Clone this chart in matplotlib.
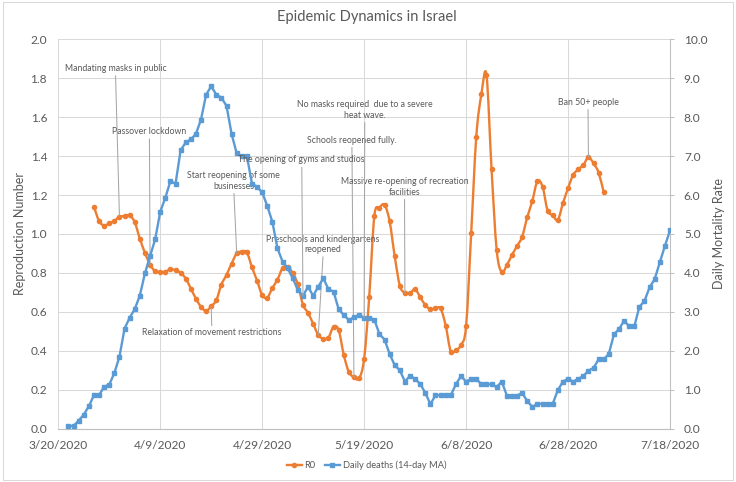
import matplotlib
matplotlib.use('Agg')
import matplotlib.pyplot as plt
import matplotlib.dates as mdates
from matplotlib.patches import Rectangle, PathPatch
from matplotlib.path import Path
from matplotlib.lines import Line2D
import numpy as np
import pandas as pd

plt.rcParams['font.family'] = ['Lato', 'DejaVu Sans']

# R0 (axe gauche), un point par jour a partir du 27/03
r0_start = '2020-03-27'
r0 = [1.139, 1.067, 1.043, 1.055, 1.067, 1.089, 1.092, 1.096, 1.060, 0.976,
      0.903, 0.843, 0.809, 0.805, 0.805, 0.820, 0.813, 0.800, 0.771, 0.720,
      0.668, 0.626, 0.605, 0.629, 0.660, 0.740, 0.790, 0.848, 0.900, 0.910,
      0.905, 0.829, 0.760, 0.686, 0.673, 0.723, 0.766, 0.825, 0.833, 0.798,
      0.741, 0.637, 0.594, 0.539, 0.481, 0.462, 0.468, 0.524, 0.507, 0.380,
      0.291, 0.265, 0.258, 0.360, 0.678, 1.092, 1.135, 1.150, 1.065, 0.885,
      0.735, 0.697, 0.697, 0.716, 0.676, 0.635, 0.613, 0.618, 0.618, 0.529,
      0.396, 0.404, 0.430, 0.527, 1.004, 1.500, 1.717, 1.817, 1.332, 0.918,
      0.803, 0.841, 0.892, 0.938, 0.986, 1.086, 1.170, 1.272, 1.243, 1.120,
      1.096, 1.072, 1.158, 1.235, 1.303, 1.332, 1.354, 1.394, 1.363, 1.315,
      1.214]

# deces quotidiens (moyenne mobile 14 jours, axe droit) a partir du 22/03
deaths_start = '2020-03-22'
deaths_ma = [0.07, 0.07, 0.21, 0.36, 0.58, 0.86, 0.86, 1.08, 1.13, 1.43,
             1.85, 2.57, 2.85, 3.07, 3.42, 3.99, 4.43, 4.86, 5.57, 5.93,
             6.36, 6.29, 7.15, 7.35, 7.43, 7.57, 7.94, 8.58, 8.79, 8.58,
             8.50, 8.29, 7.57, 7.07, 7.00, 7.00, 6.29, 6.21, 6.07, 5.72,
             5.31, 4.63, 4.29, 4.12, 3.86, 3.56, 3.41, 3.65, 3.41, 3.65,
             3.86, 3.58, 3.52, 3.07, 2.92, 2.79, 2.86, 2.92, 2.85, 2.85,
             2.80, 2.43, 2.29, 1.92, 1.63, 1.50, 1.21, 1.36, 1.28, 1.15,
             0.92, 0.63, 0.86, 0.86, 0.86, 0.86, 1.14, 1.35, 1.21, 1.28,
             1.28, 1.14, 1.14, 1.14, 1.07, 1.21, 0.85, 0.85, 0.85, 0.92,
             0.71, 0.56, 0.64, 0.64, 0.64, 0.64, 0.99, 1.21, 1.28, 1.21,
             1.28, 1.35, 1.49, 1.56, 1.78, 1.78, 1.92, 2.42, 2.56, 2.77,
             2.63, 2.63, 3.13, 3.28, 3.63, 3.84, 4.27, 4.69, 5.09]

date_ticks = ['3/20/2020', '4/9/2020', '4/29/2020', '5/19/2020',
              '6/8/2020', '6/28/2020', '7/18/2020']
r_ticks = [0.0, 0.2, 0.4, 0.6, 0.8, 1.0, 1.2, 1.4, 1.6, 1.8, 2.0]
death_ticks = [0.0, 1.0, 2.0, 3.0, 4.0, 5.0, 6.0, 7.0, 8.0, 9.0, 10.0]

# evenements: texte, serie visee, date visee
events = [
    ('Mandating masks in public', 'r0', '2020-04-01'),
    ('Passover lockdown', 'r0', '2020-04-07'),
    ('Start reopening of some\nbusinesses', 'r0', '2020-04-24'),
    ('The opening of gyms and studios', 'deaths', '2020-05-07'),
    ('Preschools and kindergartens\nreopened', 'r0', '2020-05-10'),
    ('No masks required  due to a severe\nheat wave.', 'deaths', '2020-05-19'),
    ('Schools reopened fully.', 'r0', '2020-05-17'),
    ('Massive re-opening of recreation\nfacilities', 'r0', '2020-05-27'),
    ('Ban 50+ people', 'r0', '2020-07-02'),
    ('Relaxation of movement restrictions', 'r0', '2020-04-19'),
]
# position des etiquettes (fraction des axes)
label_pos = [(0.0935, 0.925), (0.149, 0.763), (0.287, 0.636), (0.398, 0.690),
             (0.433, 0.4735), (0.501, 0.818), (0.480, 0.741), (0.566, 0.621),
             (0.866, 0.838), (0.251, 0.246)]

orange = '#ED7D31'
blue = '#5B9BD5'
txt = '#595959'
grid = '#D9D9D9'

r0_dates = pd.date_range(r0_start, periods=len(r0), freq='D')
deaths_dates = pd.date_range(deaths_start, periods=len(deaths_ma), freq='D')
tick_dates = pd.to_datetime(date_ticks, format='%m/%d/%Y')


def smooth_path(xs, ys):
    # courbe lissee facon Excel (Catmull-Rom en Bezier cubiques)
    p = np.column_stack([xs, ys])
    n = len(p)
    verts = [p[0]]
    codes = [Path.MOVETO]
    for i in range(n - 1):
        p0 = p[max(i - 1, 0)]
        p1 = p[i]
        p2 = p[i + 1]
        p3 = p[min(i + 2, n - 1)]
        verts += [p1 + (p2 - p0) / 6, p2 - (p3 - p1) / 6, p2]
        codes += [Path.CURVE4] * 3
    return Path(verts, codes)


fig = plt.figure(figsize=(7.36, 4.82), dpi=100)
ax = fig.add_axes([0.0792, 0.1106, 0.8311, 0.8079])
ax2 = ax.twinx()

ax2.plot(deaths_dates, deaths_ma, color=blue, lw=1.7, marker='s', ms=3.4,
         zorder=3)
ax.add_patch(PathPatch(smooth_path(mdates.date2num(r0_dates), r0),
                       fill=False, edgecolor=orange, lw=1.7, zorder=3,
                       capstyle='round', joinstyle='round'))
ax.plot(r0_dates, r0, color=orange, ls='none', marker='o', ms=3.0, zorder=3)

ax.set_xlim(tick_dates[0], tick_dates[-1])
ax.set_ylim(0, 2.0)
ax2.set_ylim(0, 10.0)
ax.set_xticks(tick_dates)
ax.set_xticklabels(date_ticks)
ax.set_yticks(r_ticks)
ax.set_yticklabels(['%.1f' % v for v in r_ticks])
ax2.set_yticks(death_ticks)
ax2.set_yticklabels(['%.1f' % v for v in death_ticks])

ax.grid(True, color=grid, lw=0.75)
ax.set_axisbelow(True)
for s in ['top', 'left', 'right']:
    ax.spines[s].set_visible(False)
    ax2.spines[s].set_visible(False)
ax.spines['bottom'].set_color('#BFBFBF')
ax2.spines['bottom'].set_visible(False)
ax2.spines['right'].set_visible(True)
ax2.spines['right'].set_color('#BFBFBF')
ax2.spines['right'].set_linewidth(0.75)

ax.tick_params(axis='x', length=0, pad=8, labelsize=8.6, labelcolor=txt)
ax.tick_params(axis='y', length=0, pad=8, labelsize=8.6, labelcolor=txt)
ax2.tick_params(axis='y', length=3, width=0.75, color='#BFBFBF', pad=7,
                labelsize=8.6, labelcolor=txt)

ax.set_ylabel('Reproduction Number', fontsize=9, color=txt)
ax.yaxis.set_label_coords(-0.053, 0.5)
ax2.set_ylabel('Daily Mortality Rate', fontsize=9, color=txt, rotation=90)
ax2.yaxis.set_label_coords(1.0705, 0.5)

fig.text(0.499, 0.965, 'Epidemic Dynamics in Israel', ha='center', va='center',
         fontsize=10.5, color=txt)

series = {'r0': (ax, r0_dates, r0), 'deaths': (ax2, deaths_dates, deaths_ma)}
for (label, key, day), (fx, fy) in zip(events, label_pos):
    a, dts, vals = series[key]
    i = dts.get_loc(pd.Timestamp(day))
    rel = (0.5, 1.0) if fy < 0.3 else (0.5, 0.0)
    a.annotate(label, xy=(dts[i], vals[i]), xytext=(fx, fy),
               textcoords=ax.transAxes, ha='center', va='center',
               multialignment='center', fontsize=6.3, color=txt, zorder=5,
               arrowprops=dict(arrowstyle='-', color='#A6A6A6', lw=0.75,
                               shrinkA=0, shrinkB=0, relpos=rel))

handles = [Line2D([], [], color=orange, lw=1.7, marker='o', ms=3.0),
           Line2D([], [], color=blue, lw=1.7, marker='s', ms=3.4)]
fig.legend(handles, ['R0', 'Daily deaths (14-day MA)'], loc='center',
           bbox_to_anchor=(0.498, 0.035), ncol=2, frameon=False, fontsize=6.7,
           labelcolor=txt, handlelength=1.6, handletextpad=0.3,
           columnspacing=1.0)

fig.patches.append(Rectangle((0.004, 0.005), 0.992, 0.99,
                             transform=fig.transFigure, fill=False,
                             edgecolor=grid, lw=0.75))

fig.savefig('out.png', dpi=100)
